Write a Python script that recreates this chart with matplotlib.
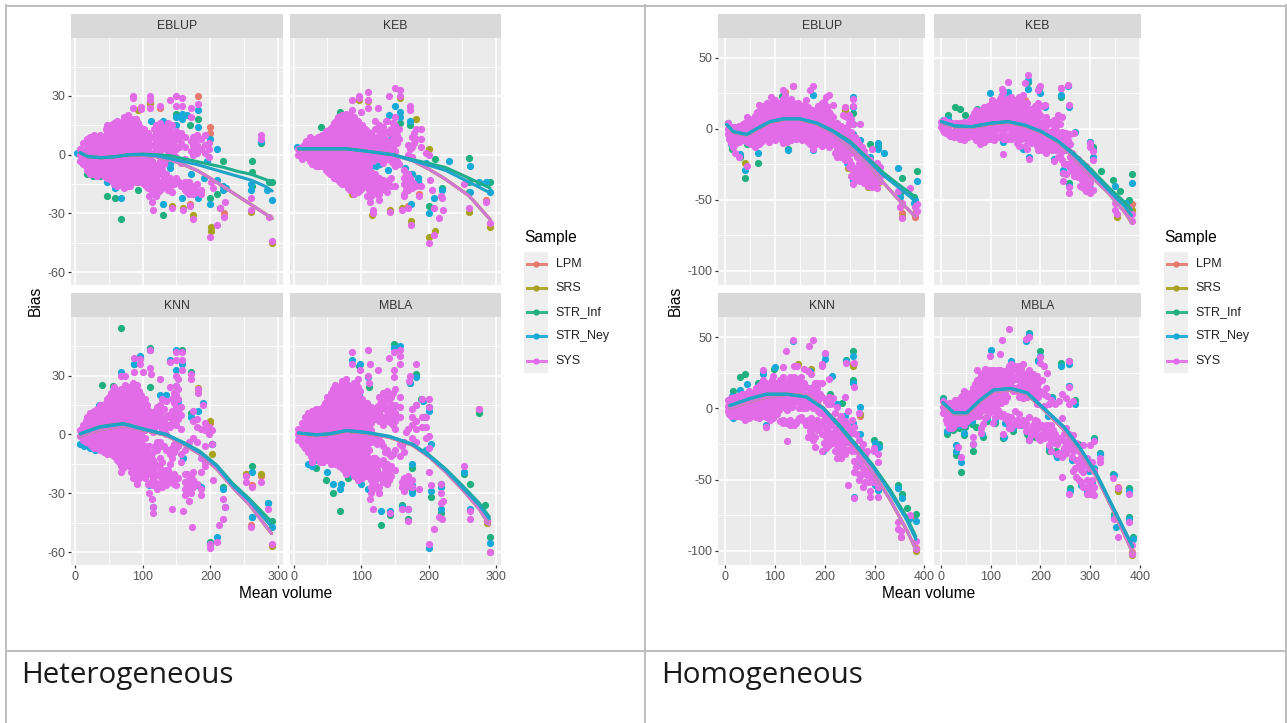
import matplotlib
matplotlib.use("Agg")
import matplotlib.pyplot as plt
from matplotlib.lines import Line2D

plt.rcParams['font.family'] = ['Liberation Sans', 'DejaVu Sans']

SAMPLES = ['LPM', 'SRS', 'STR_Inf', 'STR_Ney', 'SYS']
METHODS = ['EBLUP', 'KEB', 'KNN', 'MBLA']
COLORS = {'LPM': '#E8796F', 'SRS': '#A8A31E', 'STR_Inf': '#1FB07E', 'STR_Ney': '#17A9D8', 'SYS': '#E26CE8'}

# Each point row: (mean volume, bias, bias, ...)
# ---------------- Heterogeneous ----------------
HET_EBLUP_SYS = [(8,3,0,-3),(13,6,2,-2,-5),(18,8,4,0,-4,-8),(23,9,5,1,-3,-7,-10),(28,10,6,2,-2,-6,-10),(33,9,5,1,-3,-7,-11),
 (38,10,6,2,-2,-6,-10),(43,9,5,1,-3,-7,-11),(48,15,11,7,3,-1,-5,-9,-12),(53,15,11,7,3,-1,-5,-9,-13),(58,16,12,8,4,0,-4,-8,-12,-15),
 (63,17,14,10,6,2,-2,-6,-10,-14,-16),(68,15,11,7,3,-1,-5,-9,-13),(73,19,15,11,7,3,-1,-5,-9,-13,-17),(78,20,16,12,8,4,0,-4,-8,-12,-16),
 (84,18,14,10,6,2,-2,-6,-10,-14),(90,18,14,10,6,2,-2,-6,-10,-14),(96,14,10,6,2,-2,-6,-10,-14),(102,13,9,5,1,-3,-7,-11,-15),
 (108,11,7,3,-1,-5,-9,-13,-17),(114,9,5,1,-3,-7,-11,-15,-19),(120,15,11,7,3,-8,-12,-16,-21),(126,16,12,8,2,-3,-10,-14,-18),
 (132,14,10,6,-1,-5,-12,-16),(138,16,10,6,0,-13,-18),(144,15,9,4,-14,-19),(150,12,8,3,-1,-12),(156,11,6,-4,-16),(162,9,4,-2,-14,-18),
 (168,-14,-17,-20),(174,9,5,0,-16,-20),(180,10,5,1,-15,-19),(186,8,3,-18),(192,10,5,1),(198,6,3,-1),
 (86,30,29,24),(98,24.5,23.5),(111,30,28,24),(125,25),(140,28),(149,30,25),(158,29,25),(171,24,19),(182,26),
 (110,-21),(114,-24),(116,-28),(143,-27),(160,-28),(170,-26),(174,-33),(186,-20),(201,-14),(204,-17),(200,-42),(209,-36),(214,-27),
 (220,-32),(222,-24),(260,-22,-28),(275,10,8),(291,-44),(286,-32)]
HET_EBLUP_FILL = [(11,2,-1),(16,6,2,-2,-6),(21,8,3,-1,-5,-9),(26,8,4,0,-4,-8),(31,7,3,-1,-5,-9),(36,8,4,0,-4,-8),(41,7,3,-1,-5,-9),
 (46,13,9,5,1,-3,-7,-11),(51,13,9,5,1,-3,-7,-11),(56,14,10,6,2,-2,-6,-10,-14),(61,16,12,8,4,0,-4,-8,-12),(66,13,9,5,1,-3,-7,-11,-14),
 (71,17,13,9,5,1,-3,-7,-11,-15),(76,18,14,10,6,2,-2,-6,-10,-14),(81,16,12,8,4,0,-4,-8,-12,-16),(87,16,12,8,4,0,-4,-8,-12),(93,16,12,8,4,0,-4,-8,-12),
 (99,12,8,4,0,-4,-8,-12),(105,11,7,3,-1,-5,-9,-13,-16),(111,9,5,1,-3,-7,-11,-15),(117,13,9,5,1,-5,-10,-14,-18),(123,14,10,5,0,-6,-10,-14,-19),
 (129,12,8,4,-3,-8,-14,-17),(135,13,8,3,-2,-10,-15),(141,12,7,2,-12,-16),(147,10,5,0,-15),(153,9,4,-14),(165,-15,-19),(171,7,2,-18),(177,7,2,-18)]
HET_EBLUP_NEY = [(4,1),(47,-14),(59,-17),(68,-22,-15),(92,-14),(112,17,-12),(130,17,-25),(150,19,15,-14),(158,21,18,-22),(165,20),(182,23,14,-22),
 (200,8,-25),(209,3,-13),(219,-16,-18),(223,-17),(260,-15,-18),(275,7),(284,-18),(291,-23),(140,-7,-5),(120,-10),(172,-10),(190,-12),(195,-3)]
HET_EBLUP_INF = [(18,-10),(27,-11),(37,-11),(47,-21),(59,-22),(68,-33),(71,-16),(79,-14),(94,-18),(130,-31),(182,18),(150,21),(170,15),
 (200,-22),(209,-20),(219,-3),(262,-3,-9,-16),(275,6),(291,-14),(286,-14)]
HET_EBLUP_SRS = [(94,23),(111,27),(143,-26),(174,-31),(201,-39,-37),(214,-27),(260,-29),(291,-45),(160,-27)]
HET_EBLUP_LPM = [(182,30),(200,14,11),(186,-19),(111,26),(125,24),(170,-25),(220,-30)]

HET_KEB_SYS = [(7,3,0),(12,4,0,-2),(18,7,3,-1),(24,9,5,1,-3),(30,8,4,0,-4),(36,9,5,1,-3,-6),(42,10,6,2,-2,-6),(48,12,8,4,0,-4,-8),
 (54,13,9,5,1,-3,-7,-10),(60,16,12,8,4,0,-4,-8,-12),(66,19,15,11,7,3,-1,-5,-9,-13),(72,20,16,12,8,4,0,-4,-8,-12,-15),
 (78,21,17,13,9,5,1,-3,-7,-11,-15),(84,20,16,12,8,4,0,-4,-8,-12,-16,-18),(90,19,15,11,7,3,-1,-5,-9,-13,-17,-20),
 (96,17,13,9,5,1,-3,-7,-11,-15,-19),(102,15,11,7,3,-1,-5,-9,-13,-17),(108,12,8,4,0,-4,-8,-12,-16),(114,11,7,3,-1,-9,-13,-17,-21),
 (120,17,13,8,3,-1,-10,-14,-18),(126,15,10,6,2,-2,-12,-16,-20),(132,14,9,4,0,-4,-13,-17),(138,17,6,2,-2,-14,-19),(144,13,7,1,-3,-12,-16),
 (150,19,15,10,6,2,-2,-6,-16),(156,13,8,-5),(164,-8,-12,-15,-20),(170,5,0,-10,-14,-18),(176,9,4,-1,-14,-17),(182,13,8,-16),(188,13,8,4,-16),
 (87,28),(97,30,29),(110,32,28,24),(86,23),(100,22),(125,24),(150,34),(158,33,30),(141,30),(172,25,23),(137,17),
 (196,1),(201,0),(174,-36),(201,-45),(208,-41),(143,-29),(160,-28),(169,-27),(117,-30,-28),(113,-24),(109,-21),(127,-23),(186,-21),(163,-21),
 (215,-32.5),(222,-28),(208,-27),(205,-18),(202,-13),(218,-21),(220,-22),(260,-27),(285,-24),(291,-35),(252,-15)]
HET_KEB_FILL = [(15,5,1,-1),(21,7,3,-1),(27,7,3,-1,-5),(33,7,2,-2,-6),(39,8,4,0,-4),(45,10,6,2,-2,-6),(51,11,7,3,-1,-5,-9),(57,14,10,6,2,-2,-6,-10),
 (63,17,13,9,5,1,-3,-7,-11),(69,18,14,10,6,2,-2,-6,-10,-14),(75,18,14,10,6,2,-2,-6,-10,-14),(81,18,14,10,6,2,-2,-6,-10,-14,-17),(87,17,13,9,5,1,-3,-7,-11,-15,-18),
 (93,15,11,7,3,-1,-5,-9,-13,-17),(99,14,10,6,2,-2,-6,-10,-14,-18),(105,13,9,5,1,-3,-7,-11,-15),(111,10,6,2,-2,-6,-10,-14,-18),(117,9,5,1,-3,-11,-15,-19),
 (123,13,9,4,0,-12,-16,-20),(129,11,7,2,-2,-14,-18),(135,12,8,0,-15,-17),(141,11,5,-1,-13),(147,16,12,8,4,0,-4),(153,10,6,-3),(167,-10,-14,-18),(173,3,-12,-16),(179,11,6,-15)]
HET_KEB_NEY = [(5,4),(150,25),(158,22,19),(141,20),(172,17),(122,-6),(115,-6),(128,-5),(140,-8),(108,6),(75,10),(100,9),(201,-30),(208,-22),(174,-25),(184,-14,-12),
 (220,-18),(261,-6,-19),(275,-14),(285,-14),(291,-19),(196,-4),(165,-7),(176,-10),(230,-3),(145,9),(130,14)]
HET_KEB_INF = [(68,22),(40,14),(172,15),(201,-26),(220,-17),(176,-10),(184,-12),(260,-1.5,-14,-19),(291,-14),(210,-2),(150,12),(158,16)]
HET_KEB_SRS = [(97,28),(110,27.5),(158,29),(181,18),(174,-34),(201,-42),(209,-39),(201,3),(260,-29),(291,-37),(143,-28),(86,-20),(160,-27),(116,-31)]
HET_KEB_LPM = [(186,-20),(170,-26),(285,-23)]

HET_KNN_SYS = [(8,2,-1),(13,5,1,-3),(18,9,5,1,-3),(23,11,7,3,-1,-5),(28,12,8,4,0,-4,-7),(33,13,9,5,1,-3,-7),(38,15,11,7,3,-1,-5,-8),
 (43,15,11,7,3,-1,-5,-9),(48,18,14,10,6,2,-2,-6,-10),(53,21,17,13,9,5,1,-3,-7,-10),(58,24,20,16,12,8,4,0,-4,-8,-11),
 (63,22,18,14,10,6,2,-2,-6,-10,-13),(68,23,19,15,11,7,3,-1,-5,-9,-13,-16,-19),(74,25,21,17,13,9,5,1,-3,-7,-11,-15),
 (80,24,20,16,12,8,4,0,-4,-8,-12,-16),(86,26,22,18,14,10,6,2,-2,-6,-10,-14,-18,-22),(92,25,21,17,13,9,5,1,-3,-7,-11,-15,-19,-23,-25),
 (98,20,16,12,8,4,0,-4,-8,-12,-16,-20),(104,18,14,10,6,2,-2,-6,-10,-14,-18,-22),(110,12,8,4,-6,-10,-14,-18),(116,9,5,1,-9,-13,-18,-22,-26),
 (122,14,10,6,-4,-8,-16,-20,-25,-28),(128,18,12,7,3,-6,-14,-19,-23,-27),(134,17,9,4,0,-8,-18,-22,-26),(140,24,9,4,-10,-15,-20,-24),
 (146,21,16,11,7,-5,-9,-20,-25),(152,28,23,18,12,8,-6,-22),(156,14,10,3,-10,-14),(162,-8,-20,-24,-28,-31),(168,-4,-22,-26,-34),
 (174,12,7,-2,-19,-23,-27),(180,8,4,-4,-25),(186,3,-12,-19,-28,-31),(192,6,2,-6,-14,-16),(198,4,0),(202,2,-5),
 (68,30),(74,30),(87,39,32),(96,38.5,36),(101,32),(111,43,34),(113,31),(125,28),(140,37),(149,42,38,30,24.5),(158,42,38,33),(171,31,28),(182,23,21),(189,15),
 (108,-25),(109,-30),(114,-33),(116,-40,-37),(143,-38),(160,-39),(173,-47),(200,-58,-56),(209,-55),(213,-46),(219,-43),(222,-37),(218,-33),(204,-23),
 (260,-47),(253,-24,-21),(275,-24),(261,-27),(291,-56),(285,-38)]
HET_KNN_FILL = [(11,3,-1),(16,7,3,-1,-4),(21,9,5,1,-3),(26,10,6,2,-2,-6),(31,11,7,3,-1,-5),(36,13,9,5,1,-3,-6),(41,13,9,5,1,-3,-7),(46,16,12,8,4,0,-4,-8),
 (51,19,15,11,7,3,-1,-5,-9),(56,22,18,14,10,6,2,-2,-6,-9),(61,20,16,12,8,4,0,-4,-8,-11),(66,21,17,13,9,5,1,-3,-7,-11,-14),(71,23,19,15,11,7,3,-1,-5,-9,-13,-17),
 (77,23,19,15,11,7,3,-1,-5,-9,-13),(83,24,20,16,12,8,4,0,-4,-8,-12,-15,-19),(89,23,19,15,11,7,3,-1,-5,-9,-13,-17,-21),(95,22,18,14,10,6,2,-2,-6,-10,-14,-18,-22),
 (101,18,14,10,6,2,-2,-6,-10,-14,-18),(107,15,11,7,3,-8,-12,-16,-20),(113,10,6,2,-11,-16,-20,-24),(119,12,8,4,-6,-15,-20,-24),(125,15,9,5,-4,-12,-17,-21,-25),
 (131,13,7,2,-6,-20,-24),(137,10,5,-8,-18,-22),(143,18,12,6,-7,-12,-22),(149,20,14,10,5,-7,-22,-26),(165,-20,-24,-28),(171,-21,-25,-30)]
HET_KNN_NEY = [(8,-5),(14,-6),(22,-7),(30,-8),(36,-7),(36,15),(68,32),(87,36),(96,40),(111,43),(140,38),(149,43,33),(158,36),(134,20),(125,20),(152,17),(182,12),(189,16),(196,4),
 (203,-5),(261,-19,-42),(222,-37),(218,-28),(200,-56),(209,-52),(285,-35),(291,-47),(170,-21),(160,-12),(109,-26),(116,-37),(186,-27),(172,9)]
HET_KNN_INF = [(68,54),(41,25),(40,15),(57,24.5),(87,36),(111,24),(111,44),(149,24.5),(158,43),(96,39),(171,32),(172,11),(261,-16,-42),(285,-35),(291,-44),(203,-5),(200,-55),(182,-26),(218,-27)]
HET_KNN_SRS = [(182,23.5),(199,7),(253,-20),(275,-20),(203,-10),(291,-57)]
HET_KNN_LPM = [(199,6),(261,-26),(260,-46),(253,-20),(275,-21)]

HET_MBLA_SYS = [(7,3,0,-3),(12,6,2,-2,-5),(17,9,5,1,-3,-7),(22,11,7,3,-1,-5,-9),(27,12,8,4,0,-4,-8,-12,-14),(33,13,9,5,1,-3,-7,-11),
 (39,13,9,5,1,-3,-7,-11,-14),(44,14,10,6,2,-2,-6,-10,-14),(49,19,15,11,7,3,-1,-5,-9,-13),(55,21,17,13,9,5,1,-3,-7,-11,-15),
 (61,25,21,17,13,9,5,1,-3,-7,-11,-15),(67,24,20,16,12,8,4,0,-4,-8,-12,-16),(72,27,23,19,15,11,7,3,-1,-5,-9,-13,-17),
 (78,28,24,20,16,12,8,4,0,-4,-8,-12,-16,-20),(84,23,19,15,11,7,3,-1,-5,-9,-13,-17),(90,26,22,18,14,10,6,2,-2,-6,-10,-14,-18,-21),
 (96,28,24,20,16,12,8,4,0,-4,-8,-12,-16,-20,-23),(102,18,14,10,6,2,-2,-6,-10,-14,-18,-22),(108,16,12,8,4,0,-6,-11,-15,-21),
 (114,14,10,6,2,-4,-14,-18,-23,-27,-30),(120,12,8,-2,-12,-16,-20,-25),(126,19,15,11,7,-3,-15,-20,-27,-30),(132,21,16,9,5,-6,-13,-20,-24),
 (138,22,18,12,7,-8,-15,-19,-25),(144,19,15,10,6,-11,-16,-21),(150,23,15,11,7,3,-8,-18),(157,19,14,9,-5,-11),(164,-4,-9,-22,-26,-29),(170,3,-21,-25,-38),
 (176,9,13,5,-2,-23,-27),(182,15,7,3,-4),(190,18,9,4),(196,9,4,-2),(201,18,14,-1,-7),
 (110,43),(87,42,36),(113,36),(98,33),(125,33),(149,42),(158,43,40,36),(141,39),(148,33,29),(181,36),(172,30),(171,27),(112,26),(110,30),(181,15),(275,13),
 (117,-38),(113,-33),(143,-40),(160,-38),(170,-44),(127,-30),(186,-28),(201,-19,-56),(204,-26),(218,-30,-35),(222,-34),(215,-42),(220,-43),(208,-48),
 (253,-16),(261,-43,-39),(287,-44),(291,-60),(218,-25)]
HET_MBLA_FILL = [(10,2,-2),(15,5,1,-3,-6),(20,7,3,-1,-5),(25,9,5,1,-3,-7,-11),(30,10,6,2,-2,-6,-10),(36,11,7,3,-1,-5,-9,-12),(42,11,7,3,-1,-5,-9,-12),
 (47,16,12,8,4,0,-4,-8,-12),(52,19,15,11,7,3,-1,-5,-9,-13),(58,23,19,15,11,7,3,-1,-5,-9,-13),(64,22,18,14,10,6,2,-2,-6,-10,-14),(70,25,21,17,13,9,5,1,-3,-7,-11,-15),
 (75,26,22,18,14,10,6,2,-2,-6,-10,-14,-18),(81,25,21,17,13,9,5,1,-3,-7,-11,-15,-18),(87,24,20,16,12,8,4,0,-4,-8,-12,-16,-19),(93,26,22,18,14,10,6,2,-2,-6,-10,-14,-18,-21),
 (99,22,18,14,10,6,2,-2,-6,-10,-14,-18,-21),(105,16,12,8,4,0,-4,-8,-12,-16,-20),(111,14,10,6,2,-2,-8,-13,-18),(117,12,8,-2,-12,-16,-20,-25,-28),(123,14,10,-5,-13,-18,-22,-27),
 (129,17,13,7,-4,-15,-22),(135,20,14,9,-9,-17,-22),(141,17,12,8,-10,-18,-23),(147,21,13,9,5,-10),(160,-6,-24,-27),(167,1,-23,-27)]
HET_MBLA_NEY = [(22,-15),(27,-16),(33,-13),(49,-19),(59,-25),(70,-25),(68,-28),(85,-20),(100,-25),(110,-28),(130,-39),(143,-39),(160,-37),(170,-38),(176,-26,-30),(204,-29),(218,-27),(219,-38),
 (201,-58),(253,-19),(261,-38),(291,-55.5),(149,44),(158,45),(98,36),(110,29),(86,38),(97,20),(181,29),(172,26),(191,17),(201,12),(203,-5),(196,-8),(176,-15)]
HET_MBLA_INF = [(25,-15),(33,-17),(48,-23),(59,-30),(68,-39),(80,-22),(130,-46),(143,-41),(160,-36),(175,-29),(170,-43),(204,-32),(218,-25),(219,-40),(149,46),(97,35),(181,31),(172,26),
 (201,14),(194,9),(261,-25),(253,-20),(284,-36),(291,-52),(275,11),(188,18),(176,-17),(112,24)]
HET_MBLA_SRS = [(287,-45),(291,-60)]
HET_MBLA_LPM = [(287,-44),(275,13)]

# ---------------- Homogeneous ----------------
HOM_EBLUP_SYS = [(5,4,0,-4),(12,1,-5,-10),(20,1,-5,-11,-17),(28,2,-3,-9,-20),(36,3,-3,-8),(44,8,2,-4,-9,-26),(52,6,1,-5,-11),(60,9,4,-2,-8,-13),
 (68,17,11,5,-1,-7,-11),(76,16,10,4,-2,-8),(84,18,12,6,0,-6),(92,22,16,10,4,-2),(100,20,14,8,2,-4,-8),(108,18,12,6,0,-6),(116,27,21,15,9,3,-3,-10),
 (124,20,14,8,2,-4,-9),(132,21,15,9,3,-3,-8),(137,30,18,12,6,0,-6),(146,18,12,6,0,-5),(154,16,10,4,-2,-8),(162,20,14,8,2,-4),(170,27,12,6,0,-6,-11),
 (177,30,10,4,-2,-8,-14),(186,16,10,4,-3,-9),(194,18,12,6,0,-6,-12),(202,22,16,8,2,-5,-11),(208,24,12,5,-1,-7,-13),(216,17,8,2,-4,-11),(224,4,-2,-8,-14,-20),
 (232,2,-4,-10,-16,-20),(240,15,9,-3,-9,-15,-22),(248,10,4,-8,-14,-22,-27),(257,21,16,3,-6,-14,-29,-34,-39),(264,-8,-14,-20,-32,-36),(271,3,-14,-20,-27,-33,-37),
 (279,-16,-22,-28,-34,-38),(287,-23,-30,-36,-40),(295,-14,-25,-31,-37,-41),(304,-24,-30,-36,-42),(310,-27,-33,-37),(348,-44),(351,-55),(356,-63,-52),(372,-42),(381,-60,-55),(385,-58,-53)]
HOM_EBLUP_FILL = [(8,2,-2,-7),(16,1,-2,-8,-13),(24,1,-3,-8),(32,2,-1,-6),(40,4,-1,-6),(48,5,-2,-7),(56,7,2,-3,-9),(64,12,7,1,-4,-10),(72,14,8,2,-4,-9),(80,16,10,4,-2,-7),(88,15,9,3,-3,-9),
 (96,19,13,7,1,-5),(104,17,11,5,-1,-6),(112,16,10,4,-2,-7),(120,24,18,12,6,0,-6),(128,17,11,5,-1,-6),(134,18,12,6,0,-5),(142,15,9,3,-3,-7),(150,13,7,1,-5),(158,17,11,5,-1,-7),(166,15,9,3,-3,-9),
 (174,13,7,1,-5,-11),(182,13,7,1,-5,-11),(190,14,8,2,-3,-9),(198,19,13,5,-1,-8),(205,15,9,2,-4,-10),(212,10,5,-1,-7),(220,3,-5,-11,-17),(228,0,-6,-12,-18),(236,10,0,-6,-12,-18),(244,8,1,-5,-11,-18),
 (252,7,-2,-11,-17,-25,-33),(260,-6,-11,-17,-28,-34),(268,-11,-17,-24,-30,-36),(275,-13,-19,-25,-31,-37),(283,-20,-26,-32,-38),(291,-22,-28,-34,-39),(300,-27,-33,-39)]
HOM_EBLUP_NEY = [(5,4),(12,-11),(29,-18),(40,-29),(65,-17),(127,-15),(120,20),(177,24,-15),(200,-2),(257,22,15,-4),(245,-24,-8),(265,-33),(271,-8),(307,-10,-14),(318,-17),(291,-20),(300,-38),(348,-28),
 (352,-48),(381,-50),(385,-37),(380,-52),(257,-36)]
HOM_EBLUP_INF = [(13,-14),(29,-20),(40,-35),(65,-24),(43,-11),(85,-5),(127,-14),(257,3,11),(291,-11),(307,-12),(356,-35),(385,-30),(60,-10),(352,-45),(380,-48),(90,17),(115,23),(280,-30),(257,-32)]
HOM_EBLUP_SRS = [(40,-24),(356,-62),(381,-59),(240,13),(247,-28),(287,-41),(306,-38),(163,15)]
HOM_EBLUP_LPM = [(381,-62),(356,-59),(240,14),(120,26),(137,30)]

HOM_KEB_SYS = [(1,5,1),(7,6,2,-2),(14,5,0,-4),(22,4,-2,-5),(30,4,0,-5),(38,4,-2,-7),(46,5,0,-4,-8),(54,3,-2,-6),(62,8,3,-3),(70,13,8,2,-4,-8),(78,12,6,1,-5,-11),
 (86,15,9,3,-3,-9),(94,16,10,4,-2,-7),(102,20,13,7,1,-5),(110,18,12,6,0,-6),(118,21,15,9,3,-5),(124,26,18,12,6,-2,-7),(132,21,15,9,3,-5,-7),(140,22,16,10,4,-3,-7),
 (148,20,14,8,2,-5),(156,22,16,10,4,-2,-8,-12),(164,24,18,12,6,0,-5),(172,18,12,6,-1,-8,-14),(180,14,8,2,-5,-10),(188,16,10,4,-2,-9),(196,18,12,5,-1,-8,-15),(204,16,5,-2,-8,-15),
 (212,8,2,-5,-11,-17),(220,5,-2,-8,-14),(228,6,0,-6,-12,-23),(236,10,3,-5,-11,-20),(244,8,-2,-9,-16,-22),(252,-3,-9,-15,-25,-32),(260,-4,-11,-20,-28),(268,-3,-20,-26,-33),(276,-21,-27,-34),
 (284,-24,-30,-36,-41),(292,-26,-32,-38,-44),(300,-10,-13,-30,-38,-45),(306,-16,-22,-35,-43),(135,33),(122,28),(168,32),(175,38),(199,30),(196,27),(209,17),(241,29),(256,31),(257,17),(125,-18),(176,-21),
 (246,-37,-31),(257,-45,-41),(349,-57,-52),(353,-60),(372,-58),(378,-56),(383,-65,-60)]
HOM_KEB_FILL = [(4,3,-1),(10,4,0,-3),(18,3,-2,-5),(26,3,-2,-6),(34,3,-2,-6),(42,3,-1,-6),(50,3,-2,-6),(58,6,1,-4),(66,11,5,0,-6),(74,10,4,-2,-8),(82,13,7,1,-5,-9),(90,13,7,1,-5),(98,17,10,4,-2,-7),
 (106,15,9,3,-3,-8),(114,19,12,6,0,-6),(121,22,15,9,3,-5),(128,18,12,6,0,-6),(136,19,13,7,1,-5),(144,17,11,5,-1,-6),(152,19,13,7,1,-5,-10),(160,21,15,9,3,-3,-7),(168,15,9,3,-4,-12),(176,11,5,-1,-8),
 (184,13,7,1,-5,-9),(192,15,9,2,-5,-12),(200,10,2,-5,-12),(208,5,-1,-8,-14),(216,4,-5,-11),(224,3,-3,-9,-15),(232,6,-1,-8,-15),(240,3,-5,-12,-19),(248,-6,-12,-25),(256,-8,-15,-25),(264,-17,-23,-30),
 (272,-24,-31),(280,-28,-34,-40),(288,-29,-35,-41),(296,-33,-40)]
HOM_KEB_NEY = [(4,6),(15,7),(98,25),(122,24),(135,26),(175,34,28),(199,25),(241,24),(256,30),(257,15),(176,-20),(209,15),(269,-2),(300,-9),(306,-15,-20),(246,-29),(257,-40),(299,-42),(350,-40),(383,-38),(372,-52),(165,-14),(124,-9),(348,-48),(228,-21)]
HOM_KEB_INF = [(15,10),(29,15),(38,14),(48,10),(241,22),(198,29),(306,-13),(300,-9),(346,-36),(383,-32),(360,-44),(378,-50),(246,-31),(257,-38),(72,14),(175,33),(322,-30)]
HOM_KEB_SRS = [(353,-62),(292,-41),(168,18),(383,-57),(287,-42)]
HOM_KEB_LPM = [(383,-53),(241,29),(380,-52),(168,20)]

HOM_KNN_SYS = [(5,6,2,-2),(12,7,3,-1,-5),(19,8,3,-2,-5),(26,9,5,0,-5),(33,10,5,0,-6),(40,10,5,0,-5,-8),(47,12,6,1,-4,-7),(54,11,6,1,-5),(61,14,8,2,-3,-6),(68,16,10,4,-2,-7),
 (75,27,20,14,8,3,-3),(82,18,12,6,0,-6,-13),(89,16,10,4,-2,-8),(96,23,17,11,5,-1,-7),(103,18,12,6,0,-4),(110,20,14,8,2,-9),(117,29,22,16,10,4,-8,-10),(124,18,12,6,-1,-10,-23),
 (131,22,16,10,4,-8,-12),(138,30,22,16,10,4,-10,-12),(145,30,20,14,8,-9),(152,22,16,9,3,-6),(159,28,18,10,3,-9),(166,26,14,8,2,-8,-20),(173,24,13,6,-7,-14,-18),(180,18,10,4,-10,-20,-27),
 (187,18,6,-2,-11),(195,30,18,8,-3,-12,-18,-30),(202,5,-6,-14,-20,-28),(209,21,8,-5,-10,-20,-26),(216,7,-8,-18,-24),(224,1,-14,-20,-26,-35),(232,-5,-18,-22,-29,-35),(240,8,-9,-17,-24,-32),(247,-2,-16,-29,-54),
 (254,-8,-17,-30),(259,32,15,-13,-25,-37,-45,-63),(268,-3,-22,-34,-46,-50),(276,-25,-35,-42,-55),(284,-30,-38,-47),(291,-40,-47,-62,-58),(299,-30,-28,-46,-52),(306,-32,-38,-55,-62),
 (122,40),(137,48),(176,48),(169,44),(200,39),(195,31),(243,32),(348,-85,-80),(354,-90,-86),(383,-99,-93),(372,-75),(82,-13)]
HOM_KNN_FILL = [(8,4,0,-4),(15,5,1,-3),(22,6,1,-3),(30,7,2,-3),(37,7,2,-3),(44,9,3,-2,-6),(51,8,3,-2),(58,11,5,-1,-5),(65,13,7,1,-4),(72,17,11,5,0,-5),(79,15,9,3,-3),(86,13,7,1,-5),(93,20,14,8,2,-4),(100,15,9,3,-1),
 (107,17,11,5,-1),(114,19,13,7,1,-9),(121,15,9,3,-9),(128,19,13,7,1,-10),(135,19,13,7,1,-11),(142,17,11,5,-10),(149,19,12,6,0,-7),(156,15,7,0,-8),(163,15,6,0,-12),(170,10,4,-10,-16),(177,15,7,0,-14,-22),
 (184,14,3,-8,-15),(191,10,-3,-14),(198,-8,-18,-24),(206,3,-8,-16,-23),(213,3,-12,-22),(220,-3,-16,-22,-30),(228,-8,-20,-26,-32),(236,-12,-20,-28),(244,-12,-22),(252,-15,-25),(262,-18,-30,-41),(272,-28,-38,-47),
 (280,-33,-44,-52),(288,-43,-52),(296,-44,-50)]
HOM_KNN_NEY = [(10,-3),(16,-7),(13,9),(30,13),(43,17),(65,16),(75,24),(100,29),(137,47),(200,35,38),(214,23),(243,33),(257,37,18,-10),(271,1),(270,-18),(300,-24),(308,-27),(197,-30),(300,-54),(307,-57),(270,-40),(259,-62),(348,-56),(355,-63),(370,-78),(383,-79),(170,26),(82,-12),(170,14),(225,3),(240,-5)]
HOM_KNN_INF = [(16,12),(29,22),(40,24),(65,18),(75,26),(97,28),(150,16),(243,34),(257,40,20),(299,-22),(308,-25),(235,4),(348,-54),(355,-60),(383,-74),(365,-70),(270,-37),(180,8),(210,10)]
HOM_KNN_SRS = [(146,31),(172,28),(257,30),(270,-4),(354,-90),(383,-100)]
HOM_KNN_LPM = [(257,31),(270,-5),(379,-76),(383,-98)]

HOM_MBLA_SYS = [(4,5,1,-3),(10,3,-3,-8),(16,4,-2,-8,-14),(22,4,-2,-8,-14),(28,6,0,-6,-11),(34,6,0,-6,-10,-27),(40,8,2,-4,-10,-34),(46,12,6,0,-6,-12),(52,9,3,-3,-9),(58,11,5,-1,-7),(65,14,8,2,-4,-20,-25),
 (72,27,20,13,7,1,-5),(80,24,17,10,4,-2,-17,-14),(88,28,21,14,8,2,-7),(96,27,21,15,9,3,-3),(99,37),(104,27,21,15,9,3,-2,-10),(112,27,21,15,9,3,-3),(118,38,27,20,14,8,-3),(125,26,20,13,7,-4,-18),(123,48),(132,27,20,14,8,-5,-8),
 (136,56,30,22,-10,-14),(140,31,24,16,-6,-14),(148,30,22,14,-2,-10),(156,30,24,16,8,-4,-12),(164,31,24,14,7,-8),(170,49,21,13,-10,-16),(176,50,27,20,12,-6,-22),(184,24,16,8,-12,-17),(192,23,16,3,-9,-19),(200,32,36,12,-12,-22),
 (208,30,10,2,-14,-21),(214,25,9,-12,-18),(222,6,-12,-22,-30),(230,3,-18,-24),(238,5,-21,-31),(244,10,-7,-22,-34,-48),(252,7,-14,-25,-31),(258,33,15,3,-18,-26,-60),(266,5,-19,-30,-44),(272,-24,-36,-48),(278,-30,-40,-50),
 (286,-26,-37,-45,-55),(294,-35,-50,-60),(300,-26,-38,-52,-60),(307,-23,-44,-55,-61),(319,-35,-38),(346,-49),(356,-56,-90),(348,-78),(378,-60,-80),(384,-102,-96)]
HOM_MBLA_FILL = [(7,2,-2),(13,1,-5,-10),(19,1,-5,-10),(25,3,-3,-9,-13),(31,3,-3,-8),(37,5,-1,-7),(43,9,4,-2,-8),(49,9,3,-3,-9),(55,8,2,-4),(62,11,5,-1,-6),(68,17,10,5,-1),(76,21,14,7,1,-5),(84,25,18,11,5,-1,-11),
 (92,24,18,12,6,0,-5),(100,24,18,12,6,0),(108,24,18,12,6,0,-6),(115,24,17,11,5,-1),(121,23,17,10,4,-5),(128,24,17,11,5,-7),(134,27,20,-8),(144,27,20,12,-12),(152,27,21,12,-8),(160,28,20,10,-10),(167,24,17,-12),(173,23,16,8,-14),
 (180,20,12,-15,-19),(188,20,12,-8,-16),(196,18,8,-14,-21),(204,20,-12,-18),(211,14,-15,-20),(218,3,-17,-26),(226,-15,-21),(234,-25,-32),(248,-18,-28),(256,-22,-28),(264,-23,-34),(270,-27,-42),(282,-34,-43,-52),(290,-40,-55),(297,-42,-55),(304,-38,-50,-58)]
HOM_MBLA_NEY = [(4,6),(13,-16),(25,-13),(31,-26,-30),(40,-38),(46,-17),(64,-25),(83,-18),(100,41),(126,-20),(176,-22,52),(170,47),(200,37),(195,33),(224,7),(242,30),(258,31,16),(270,3),(260,-58),(276,-28),(293,-59),(307,-22,-42),(319,-32),(347,-47),(348,-76),(378,-58,-78),(385,-92),(232,-32),(140,33),(216,-5),(352,-83),
 (19,-12),(37,-12),(43,-10),(49,-11),(55,-7),(62,-9),(92,-7),(108,-8),(128,-10),(144,-14),(160,-12),(173,-16),(188,-18),(204,-20),(218,-28),(234,-34),(248,-30),(264,-36),(282,-54),(297,-44),(304,-52)]
HOM_MBLA_INF = [(5,7),(13,-18),(25,-15),(31,-33),(40,-45),(46,-19),(64,-30),(84,-20),(124,-21),(176,53),(200,40),(195,34),(242,32),(258,33,16),(224,8),(276,-25),(307,-21),(319,-31),(346,-46),(348,-74),(378,-56,-76),(385,-90),(260,-56),(293,-56),(232,-30),(270,6),(176,-20),(70,-13),
 (19,-14),(37,-14),(49,-13),(62,-11),(92,-9),(108,-10),(144,-16),(173,-18),(188,-20),(218,-30),(248,-32)]
HOM_MBLA_SRS = [(356,-58),(384,-103)]
HOM_MBLA_LPM = [(384,-101),(356,-55)]

# Smooth curves: x values and fitted bias per sample
HET_EBLUP_X = [8,20,40,60,80,100,120,140,160,180,200,220,240,260,280,291]
HET_EBLUP_CURVE = {'LPM':[1,-1,-1.6,-1,0,-.2,-1,-2.6,-5,-8,-12,-16.5,-21,-25.5,-30,-32.5],
 'SRS':[1,-1,-1.6,-1,0,-.2,-1,-2.6,-5,-8,-12,-16.5,-21,-25.5,-30,-32.5],
 'SYS':[1,-1,-1.6,-1,0,-.2,-1,-2.6,-5,-8,-12,-16.5,-21,-25.5,-30,-32.5],
 'STR_Inf':[1,-1,-1.6,-1,0,.3,0,-.5,-2,-3.5,-5,-6.5,-8.5,-10,-12.5,-14],
 'STR_Ney':[1,-1,-1.5,-1,0,0,-.5,-2,-3.5,-5,-7,-9,-11,-13,-16,-18.5]}
HET_KEB_X = [7,30,54,78,103,125,147,176,201,225,260,291]
HET_KEB_CURVE = {'LPM':[3,3,3,3,2,1,0,-3,-7.5,-12.5,-21,-33],'SRS':[3,3,3,3,2,1,0,-3,-7.5,-12.5,-21,-33],'SYS':[3,3,3,3,2,1,0,-3,-7.5,-12.5,-21,-33],
 'STR_Inf':[3,3,3,3,2,1,0,-2.5,-4.5,-6.5,-12,-17],'STR_Ney':[3,3,3,3,2,1,0,-3,-5.5,-8,-14,-19.5]}
HET_KNN_X = [8,37,72,101,135,160,184,209,233,258,290]
HET_KNN_CURVE = {'LPM':[-1,2.4,4.5,2.2,-.5,-5,-10,-17.5,-27,-36,-50.5],'SRS':[-1,2.4,4.5,2.2,-.5,-5,-10,-17.5,-27,-36,-50.5],'SYS':[-1,2.4,4.5,2.2,-.5,-5,-10,-17.5,-27,-36,-50.5],
 'STR_Inf':[.3,4,5.6,2.8,0,-4,-8.5,-15.5,-25,-33,-44.5],'STR_Ney':[.3,3.7,5.3,2.7,0,-4.3,-9,-16,-26,-34,-47]}
HET_MBLA_X = [7,34,54,78,108,142,176,201,225,250,275,290]
HET_MBLA_CURVE = {'LPM':[.5,-.6,0,1.6,.6,-1.5,-5.5,-11.5,-19,-28,-38,-46],'SRS':[.5,-.6,0,1.6,.6,-1.5,-5.5,-11.5,-19,-28,-38,-46],'SYS':[.5,-.6,0,1.6,.6,-1.5,-5.5,-11.5,-19,-28,-38,-46],
 'STR_Inf':[.8,-.2,.4,2,1,-1,-5,-10.5,-17.5,-26,-35,-42],'STR_Ney':[.7,-.2,.3,2,1,-1,-5,-11,-18,-27,-36,-43]}
HOM_EBLUP_X = [3,16,43,63,90,117,150,184,217,251,284,318,351,382]
HOM_EBLUP_CURVE = {'LPM':[3,-2.5,-4.5,-.5,4.5,6.5,6.5,3.5,-3,-14,-24,-38,-51,-62],'SRS':[3,-2.5,-4.5,-.5,4.5,6.5,6.5,3.5,-3,-14,-24,-38,-51,-62],'SYS':[3,-2.5,-4.5,-.5,4.5,6.5,6.5,3.5,-3,-14,-24,-38,-51,-62],
 'STR_Inf':[3,-2,-4,0,5,7,7,4,-1.5,-9,-20,-31,-40,-48],'STR_Ney':[3,-2,-4,0,5,7,7,4,-2,-10,-21,-33,-42,-51]}
HOM_KEB_X = [1,28,62,102,135,169,202,236,269,303,336,370,383]
HOM_KEB_CURVE = {'LPM':[4,1,1,3.5,4.5,2,-2.5,-9.5,-21,-34,-45,-59,-66],'SRS':[4,1,1,3.5,4.5,2,-2.5,-9.5,-21,-34,-45,-59,-66],'SYS':[4,1,1,3.5,4.5,2,-2.5,-9.5,-21,-34,-45,-59,-66],
 'STR_Inf':[5,2,1.5,4,5,2.5,-2,-9,-18,-29,-41,-52,-57],'STR_Ney':[5,2,1.5,4,5,2.5,-2,-9,-19,-31,-43,-55,-61]}
HOM_KNN_X = [9,50,83,123,163,197,230,264,297,331,364,383]
HOM_KNN_CURVE = {'LPM':[0,5,8,10,9,.5,-13,-28,-45,-64,-85,-99],'SRS':[0,5,8,10,9,.5,-13,-28,-45,-64,-85,-99],'SYS':[0,5,8,10,9,.5,-13,-28,-45,-64,-85,-99],
 'STR_Inf':[2,7,10,10,8,0,-12,-26,-40,-57,-76,-90],'STR_Ney':[2,7,10,10,8,0,-13,-27,-41,-59,-78,-92]}
HOM_MBLA_X = [4,26,52,79,106,140,173,213,247,280,314,348,385]
HOM_MBLA_CURVE = {'LPM':[3,-4,-4,5,12,13,10,-3,-15,-30,-49,-73,-101],'SRS':[3,-4,-4,5,12,13,10,-3,-15,-30,-49,-73,-101],'SYS':[3,-4,-4,5,12,13,10,-3,-15,-30,-49,-73,-101],
 'STR_Inf':[4,-3,-3,6,13,14,11,-2,-13,-28,-47,-71,-97],'STR_Ney':[4,-3,-3,6,13,14,11,-2,-13,-28,-47,-71,-97]}

HET_XTICKS = [0, 100, 200, 300]
HET_XMINOR = [50, 150, 250]
HET_YTICKS = [-60, -30, 0, 30]
HET_YMINOR = [-45, -15, 15, 45]
HOM_XTICKS = [0, 100, 200, 300, 400]
HOM_XMINOR = [50, 150, 250, 350]
HOM_YTICKS = [-100, -50, 0, 50]
HOM_YMINOR = [-75, -25, 25]
CAPTIONS = ['Heterogeneous', 'Homogeneous']

HET = {'EBLUP': (HET_EBLUP_LPM, HET_EBLUP_SRS, HET_EBLUP_INF, HET_EBLUP_NEY, HET_EBLUP_SYS + HET_EBLUP_FILL, HET_EBLUP_X, HET_EBLUP_CURVE),
       'KEB': (HET_KEB_LPM, HET_KEB_SRS, HET_KEB_INF, HET_KEB_NEY, HET_KEB_SYS + HET_KEB_FILL, HET_KEB_X, HET_KEB_CURVE),
       'KNN': (HET_KNN_LPM, HET_KNN_SRS, HET_KNN_INF, HET_KNN_NEY, HET_KNN_SYS + HET_KNN_FILL, HET_KNN_X, HET_KNN_CURVE),
       'MBLA': (HET_MBLA_LPM, HET_MBLA_SRS, HET_MBLA_INF, HET_MBLA_NEY, HET_MBLA_SYS + HET_MBLA_FILL, HET_MBLA_X, HET_MBLA_CURVE)}
HOM = {'EBLUP': (HOM_EBLUP_LPM, HOM_EBLUP_SRS, HOM_EBLUP_INF, HOM_EBLUP_NEY, HOM_EBLUP_SYS + HOM_EBLUP_FILL, HOM_EBLUP_X, HOM_EBLUP_CURVE),
       'KEB': (HOM_KEB_LPM, HOM_KEB_SRS, HOM_KEB_INF, HOM_KEB_NEY, HOM_KEB_SYS + HOM_KEB_FILL, HOM_KEB_X, HOM_KEB_CURVE),
       'KNN': (HOM_KNN_LPM, HOM_KNN_SRS, HOM_KNN_INF, HOM_KNN_NEY, HOM_KNN_SYS + HOM_KNN_FILL, HOM_KNN_X, HOM_KNN_CURVE),
       'MBLA': (HOM_MBLA_LPM, HOM_MBLA_SRS, HOM_MBLA_INF, HOM_MBLA_NEY, HOM_MBLA_SYS + HOM_MBLA_FILL, HOM_MBLA_X, HOM_MBLA_CURVE)}

W, H = 1287, 723
fig = plt.figure(figsize=(W / 100, H / 100), dpi=100, facecolor='white')


def axes_px(x0, y0, x1, y1, **kw):
    return fig.add_axes([x0 / W, 1 - y1 / H, (x1 - x0) / W, (y1 - y0) / H], **kw)


def flat(rows):
    xs, ys = [], []
    for row in rows:
        for v in row[1:]:
            xs.append(row[0])
            ys.append(v)
    return xs, ys


def facet(box, name, data, xlim, ylim, xt, xm, yt, ym, showx, showy):
    x0, x1, y0, y1 = box
    st = axes_px(x0, y0 - 24, x1, y0, facecolor='#D9D9D9')
    st.set_xticks([]); st.set_yticks([])
    for s in st.spines.values():
        s.set_visible(False)
    st.text(.5, .47, name, ha='center', va='center', fontsize=8.8, color='#333333', transform=st.transAxes)
    ax = axes_px(x0, y0, x1, y1, facecolor='#EBEBEB')
    for s in ax.spines.values():
        s.set_visible(False)
    ax.set_xlim(*xlim); ax.set_ylim(*ylim)
    ax.set_xticks(xt); ax.set_yticks(yt)
    ax.set_xticks(xm, minor=True); ax.set_yticks(ym, minor=True)
    ax.grid(True, which='major', color='white', lw=1.1, zorder=0)
    ax.grid(True, which='minor', color='white', lw=.6, zorder=0)
    ax.set_axisbelow(True)
    ax.tick_params(which='minor', length=0)
    ax.tick_params(which='major', length=2.2, width=.9, color='#333333', labelcolor='#555555', labelsize=9, pad=2,
                   labelbottom=showx, bottom=showx, labelleft=showy, left=showy)
    ax.set_yticklabels([str(v) for v in yt] if showy else [])
    for smp, rows in zip(SAMPLES, data[:5]):
        xs, ys = flat(rows)
        ax.scatter(xs, ys, s=27, color=COLORS[smp], linewidths=0, zorder=3, clip_on=True)
    for smp in ['LPM', 'SRS', 'SYS', 'STR_Inf', 'STR_Ney']:
        col = {'SYS': '#CF78D6', 'STR_Ney': '#1FA3C9', 'STR_Inf': '#1FAE8C'}.get(smp, COLORS[smp])
        ax.plot(data[5], data[6][smp], color=col, lw=2.2, zorder=4, solid_capstyle='round')


def block(data, lefts, xlim, ylim, xt, xm, yt, ym):
    rows = [(37.5, 285), (317, 565)]
    for i, name in enumerate(METHODS):
        r, c = i // 2, i % 2
        facet((lefts[c][0], lefts[c][1], rows[r][0], rows[r][1]), name, data[name], xlim, ylim, xt, xm, yt, ym, r == 1, c == 0)


block(HET, [(71, 282.7), (290, 500.5)], (-5.4, 306.5), (-66.5, 59.8), HET_XTICKS, HET_XMINOR, HET_YTICKS, HET_YMINOR)
block(HOM, [(718.3, 925.3), (934, 1141)], (-14, 402), (-110, 64.2), HOM_XTICKS, HOM_XMINOR, HOM_YTICKS, HOM_YMINOR)

# table rules
for xs, ys in [([6, 6], [5, 723]), ([645, 645], [5, 723]), ([1285.5, 1285.5], [5, 723]), ([6, 1285.5], [5.5, 5.5]), ([6, 1285.5], [650.5, 650.5])]:
    fig.add_artist(Line2D([v / W for v in xs], [1 - v / H for v in ys], color='#BDBDBD', lw=1.4))


def ftext(x, y, s, **kw):
    fig.text(x / W, 1 - y / H, s, **kw)


for bias_x, mv_x, cap_x, cap, leg_x in [(35, 286, 21, CAPTIONS[0], 524.3), (675, 929, 661, CAPTIONS[1], 1164.3)]:
    ftext(bias_x, 301, 'Bias', rotation=90, ha='center', va='center', fontsize=11.2, color='black')
    ftext(mv_x, 594, 'Mean volume', ha='center', va='center', fontsize=11.2, color='black')
    ftext(cap_x, 676, cap, ha='left', va='center', fontsize=21.3, color='#1A1A1A', family='Open Sans')
    ftext(leg_x, 238, 'Sample', ha='left', va='center', fontsize=11.2, color='black')
    lg = axes_px(leg_x, 251.7, leg_x + 24, 372.7, facecolor='#EFEFEF')
    lg.set_xlim(0, 1); lg.set_ylim(5, 0); lg.set_xticks([]); lg.set_yticks([])
    for s in lg.spines.values():
        s.set_visible(False)
    for i, smp in enumerate(SAMPLES):
        lg.plot([.1, .9], [i + .5, i + .5], color=COLORS[smp], lw=2.2, alpha=.9)
        lg.plot([.5], [i + .5], 'o', ms=4.5, color=COLORS[smp], mew=0)
        ftext(leg_x + 31.5, 251.7 + 24.2 * (i + .5), smp, ha='left', va='center', fontsize=9, color='#222222')

fig.savefig('out.png', dpi=100)
